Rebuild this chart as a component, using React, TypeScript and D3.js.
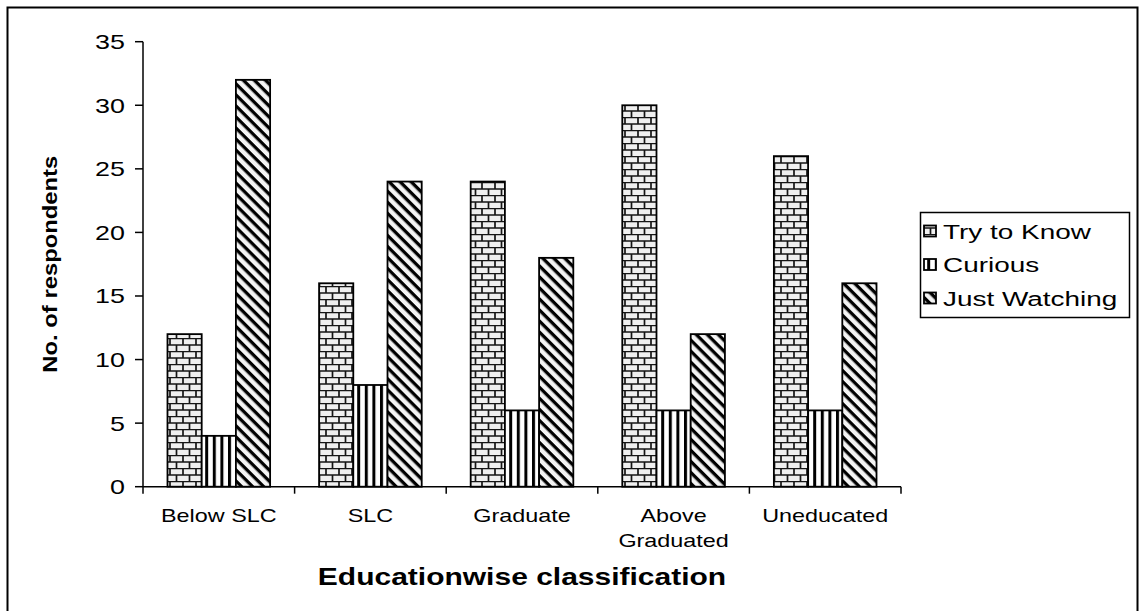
import React, { useEffect, useRef } from 'react';
import * as d3 from 'd3';

const categories = ['Below SLC', 'SLC', 'Graduate', 'Above Graduated', 'Uneducated'];
const seriesNames = ['Try to Know', 'Curious', 'Just Watching'];
const tryToKnow = [12, 16, 24, 30, 26];
const curious = [4, 8, 6, 6, 6];
const justWatching = [32, 24, 18, 12, 16];
const yTicks = [0, 5, 10, 15, 20, 25, 30, 35];

const W = 1139;
const H = 611;
const FONT = 'Liberation Sans, Arial, sans-serif';

export default function App() {
  const svgRef = useRef<SVGSVGElement>(null);

  useEffect(() => {
    if (!svgRef.current) return;
    const svg = d3.select(svgRef.current);
    svg.selectAll('*').remove();

    const values = [tryToKnow, curious, justWatching];
    const left = 143, right = 901, top = 41.7, bottom = 486.7;

    // text helper: the original text is wider than Arial, so stretch it horizontally
    const label = (g: any, x: number, y: number, str: string, size: number,
      anchor: string, sx: number, bold = false) => {
      g.append('text')
        .attr('transform', `translate(${x},${y}) scale(${sx},1)`)
        .attr('text-anchor', anchor)
        .attr('font-family', FONT).attr('font-size', size)
        .attr('font-weight', bold ? 'bold' : 'normal')
        .attr('fill', '#000')
        .text(str);
    };

    // patterns
    const defs = svg.append('defs');
    const brick = defs.append('pattern')
      .attr('id', 'brick').attr('patternUnits', 'userSpaceOnUse')
      .attr('width', 13).attr('height', 13);
    brick.append('rect').attr('width', 13).attr('height', 13).attr('fill', '#efefef');
    brick.append('path')
      .attr('d', 'M0,0.5H13M0,7H13M1,0V6.5M7.5,6.5V13')
      .attr('stroke', '#151515').attr('stroke-width', 1.7).attr('fill', 'none');

    const vert = defs.append('pattern')
      .attr('id', 'vert').attr('patternUnits', 'userSpaceOnUse')
      .attr('width', 7.6).attr('height', 10);
    vert.append('rect').attr('width', 7.6).attr('height', 10).attr('fill', '#fff');
    vert.append('rect').attr('x', 0).attr('width', 3).attr('height', 10).attr('fill', '#000');

    const diag = defs.append('pattern')
      .attr('id', 'diag').attr('patternUnits', 'userSpaceOnUse')
      .attr('width', 10).attr('height', 7.8)
      .attr('patternTransform', 'rotate(45)');
    diag.append('rect').attr('width', 10).attr('height', 7.8).attr('fill', '#f4f4f4');
    diag.append('rect').attr('y', 0).attr('width', 10).attr('height', 3.3).attr('fill', '#000');

    const fills = ['url(#brick)', 'url(#vert)', 'url(#diag)'];

    // outer border
    svg.append('rect')
      .attr('x', 7.5).attr('y', 7.5).attr('width', 1130).attr('height', 620)
      .attr('fill', 'none').attr('stroke', '#000').attr('stroke-width', 2);

    const x0 = d3.scaleBand().domain(categories).range([left, right]).paddingInner(0.323).paddingOuter(0.1615);
    const x1 = d3.scaleBand().domain(seriesNames).range([0, x0.bandwidth()]);
    const y = d3.scaleLinear().domain([0, 35]).range([bottom, top]);

    // bars
    categories.forEach((c, ci) => {
      seriesNames.forEach((s, si) => {
        const v = values[si][ci];
        svg.append('rect')
          .attr('x', (x0(c) as number) + (x1(s) as number))
          .attr('y', y(v))
          .attr('width', x1.bandwidth())
          .attr('height', y(0) - y(v))
          .attr('fill', fills[si])
          .attr('stroke', '#000').attr('stroke-width', 1.8);
      });
    });

    // y axis
    svg.append('line').attr('x1', left).attr('x2', left).attr('y1', top).attr('y2', bottom)
      .attr('stroke', '#000').attr('stroke-width', 1.5);
    yTicks.forEach(t => {
      svg.append('line').attr('x1', left - 8).attr('x2', left).attr('y1', y(t)).attr('y2', y(t))
        .attr('stroke', '#000').attr('stroke-width', 1.5);
      label(svg, left - 18, y(t) + 7.5, String(t), 21, 'end', 1.28);
    });

    // x axis
    svg.append('line').attr('x1', left).attr('x2', right).attr('y1', bottom).attr('y2', bottom)
      .attr('stroke', '#000').attr('stroke-width', 1.5);
    const step = (right - left) / categories.length;
    d3.range(categories.length + 1).forEach(i => {
      svg.append('line').attr('x1', left + i * step).attr('x2', left + i * step)
        .attr('y1', bottom).attr('y2', bottom + 7).attr('stroke', '#000').attr('stroke-width', 1.5);
    });
    categories.forEach(c => {
      const cx = (x0(c) as number) + x0.bandwidth() / 2;
      const words = c === 'Above Graduated' ? ['Above', 'Graduated'] : [c];
      words.forEach((w, wi) => {
        label(svg, cx, 522 + wi * 25, w, 19, 'middle', 1.23);
      });
    });

    // axis titles
    svg.append('text')
      .attr('transform', `translate(57,${(top + bottom) / 2}) rotate(-90)`)
      .attr('text-anchor', 'middle').attr('font-family', FONT).attr('font-size', 21)
      .attr('font-weight', 'bold')
      .attr('textLength', 217).attr('lengthAdjust', 'spacingAndGlyphs')
      .text('No. of respondents');
    label(svg, (left + right) / 2, 585, 'Educationwise classification', 24, 'middle', 1.25, true);

    // legend
    const lg = svg.append('g');
    lg.append('rect').attr('x', 920.5).attr('y', 212.5).attr('width', 209).attr('height', 105)
      .attr('fill', '#fff').attr('stroke', '#000').attr('stroke-width', 1.5);
    seriesNames.forEach((s, i) => {
      const cy = 231 + i * 33.5;
      lg.append('rect').attr('x', 924).attr('y', cy - 5.5).attr('width', 12).attr('height', 11)
        .attr('fill', fills[i]).attr('stroke', '#000').attr('stroke-width', 1.8);
      label(lg, 943, cy + 7.5, s, 21, 'start', 1.33);
    });
  }, []);

  return (
    <svg ref={svgRef} width={W} height={H}
      style={{ position: 'absolute', left: 0, top: 0, background: '#fff' }} />
  );
}
